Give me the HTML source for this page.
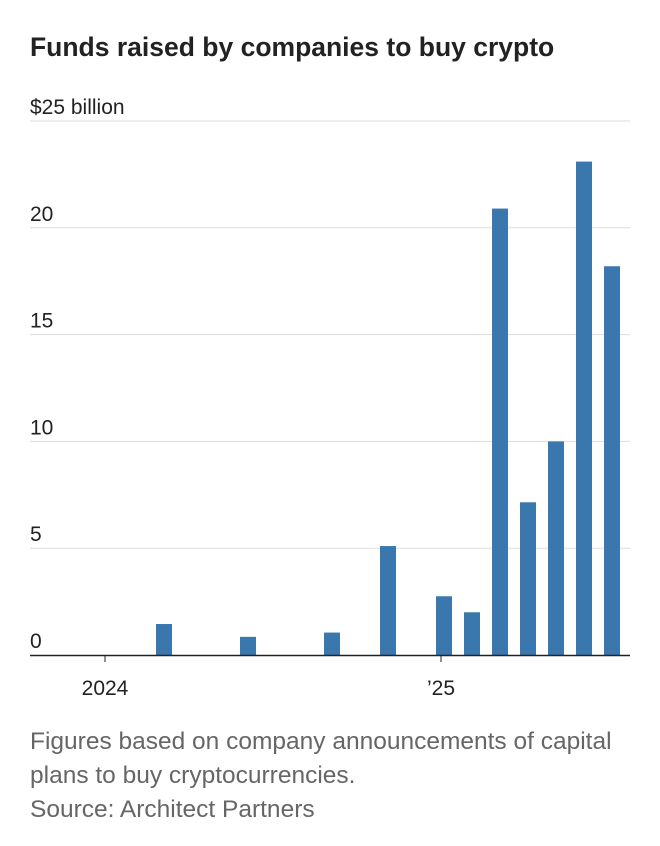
<!DOCTYPE html>
<html><head><meta charset="utf-8"><style>
body{margin:0;background:#fff;width:660px;height:846px;overflow:hidden;font-family:"Liberation Sans",sans-serif}
</style></head><body>
<svg width="660" height="846" style="position:absolute;left:0;top:0">
<text x="30" y="56" font-size="26.5" font-weight="bold" fill="#222">Funds raised by companies to buy crypto</text>
<g id="grid"></g><g id="bars"></g><g id="xaxis"></g>
<text x="30" y="749" font-size="24.5" fill="#666">Figures based on company announcements of capital</text>
<text x="30" y="783" font-size="24.5" fill="#666">plans to buy cryptocurrencies.</text>
<text x="30" y="817" font-size="24.5" fill="#666">Source: Architect Partners</text>
</svg>
<script>
const monthIdx=[2,5,8,10,12,13,14,15,16,17,18];
const values=[1.45,0.85,1.05,5.1,2.75,2.0,20.9,7.15,10.0,23.1,18.2];
const yTicks=[0,5,10,15,20,25];
const yTickLabels=["0","5","10","15","20","$25 billion"];
const xTickMonths=[0,12];
const xTickLabels=["2024","\u201925"];
const NS="http://www.w3.org/2000/svg";
const y=v=>655-v*21.36;
const x=m=>105+m*28;
function mk(t,a,p){const e=document.createElementNS(NS,t);for(const k in a)e.setAttribute(k,a[k]);p.appendChild(e);return e;}
const g=document.getElementById('grid');
yTicks.forEach((v,i)=>{
 if(v>0){const l=mk('line',{x1:30,x2:630,y1:y(v),y2:y(v),stroke:'#ddd','stroke-width':1},g);
 
 }
 const t=mk('text',{x:30,y:y(v)-7,'font-size':21,fill:'#222'},g);t.textContent=yTickLabels[i];
 
 
});
const b=document.getElementById('bars');
values.forEach((v,i)=>{
 const r=mk('rect',{x:x(monthIdx[i])-5,y:y(v),width:16,height:y(0)-y(v),fill:'#3a77ad'},b);
 
 
});
const xa=document.getElementById('xaxis');
const ax=mk('line',{x1:30,x2:630,y1:655.5,y2:655.5,stroke:'#222','stroke-width':1.5},xa);


xTickMonths.forEach((m,i)=>{
 const tk=mk('line',{x1:x(m),x2:x(m),y1:655,y2:662,stroke:'#222','stroke-width':1},xa);
 
 
 const t=mk('text',{x:x(m),y:695,'font-size':21,fill:'#222','text-anchor':'middle'},xa);t.textContent=xTickLabels[i];
 
 
});
</script>
</body></html>
